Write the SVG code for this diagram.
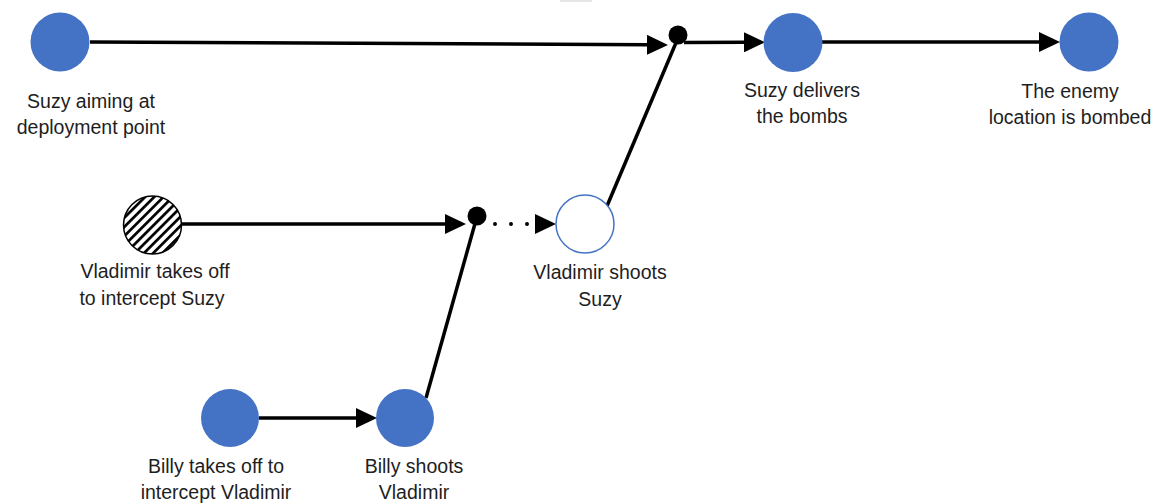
<svg xmlns="http://www.w3.org/2000/svg" width="1158" height="504" viewBox="0 0 1158 504">
  <style>
    .node { fill: #4472C4; }
    .open { fill: #ffffff; stroke: #4472C4; stroke-width: 1.5; }
    .hatch { fill: url(#hatch); stroke: #000; stroke-width: 1.5; }
    .dot { fill: #000; }
    .edge { fill: none; stroke: #000; stroke-width: 3.5; }
    .arrow { marker-end: url(#ah); }
    .dotted { fill: none; stroke: #000; stroke-width: 4; stroke-linecap: round; stroke-dasharray: 0 16; }
    .label { font-family: "Liberation Sans", Arial, sans-serif; font-size: 19.5px; fill: #1e1e1e; text-anchor: middle; }
  </style>
  <defs>
    <marker id="ah" viewBox="0 0 21 20" refX="1" refY="10" markerWidth="21" markerHeight="20" markerUnits="userSpaceOnUse" orient="auto">
      <path d="M0,0 L21,10 L0,20 Z" fill="#000"/>
    </marker>
    <pattern id="hatch" patternUnits="userSpaceOnUse" width="6.5" height="6.5" patternTransform="rotate(45)">
      <rect x="0" y="0" width="6.5" height="6.5" fill="#fff"/>
      <rect x="0" y="0" width="2.7" height="6.5" fill="#000"/>
    </pattern>
  </defs>

  <rect x="560" y="0" width="32" height="2" fill="#e6e6e6"/>

  <g id="connectors">
    <path class="edge arrow" d="M90,42 L648,44.8"/>
    <path class="edge arrow" d="M684,42.5 L745,42.3"/>
    <path class="edge arrow" d="M822,42 L1040,42"/>
    <path class="edge arrow" d="M182,224 L446,224"/>
    <path class="dotted" d="M495,224 L530,224"/>
    <path class="edge arrow" d="M535,224 L536,224" style="stroke:none"/>
    <path class="edge arrow" d="M259,418 L357,418"/>
    <path class="edge" d="M426,398 L476,220"/>
    <path class="edge" d="M607,206 L678,38"/>
  </g>

  <g id="junction1"><circle class="dot" cx="678" cy="35" r="9.5"/></g>
  <g id="junction2"><circle class="dot" cx="477" cy="216" r="9.5"/></g>

  <g id="suzy-aiming">
    <circle class="node" cx="60" cy="42" r="29.5"/>
    <text class="label" x="91" y="108">Suzy aiming at</text>
    <text class="label" x="91" y="134">deployment point</text>
  </g>

  <g id="suzy-delivers">
    <circle class="node" cx="793" cy="42.5" r="29.5"/>
    <text class="label" x="802" y="97">Suzy delivers</text>
    <text class="label" x="802" y="123">the bombs</text>
  </g>

  <g id="enemy-bombed">
    <circle class="node" cx="1089" cy="42" r="29.5"/>
    <text class="label" x="1070" y="98">The enemy</text>
    <text class="label" x="1070" y="124">location is bombed</text>
  </g>

  <g id="vladimir-takes-off">
    <circle class="hatch" cx="152.5" cy="225" r="29"/>
    <text class="label" x="155" y="278">Vladimir takes off</text>
    <text class="label" x="152" y="305">to intercept Suzy</text>
  </g>

  <g id="vladimir-shoots">
    <circle class="open" cx="585" cy="224" r="29"/>
    <text class="label" x="600" y="279">Vladimir shoots</text>
    <text class="label" x="600" y="306">Suzy</text>
  </g>

  <g id="billy-takes-off">
    <circle class="node" cx="230" cy="418" r="29"/>
    <text class="label" x="216" y="473">Billy takes off to</text>
    <text class="label" x="216" y="499">intercept Vladimir</text>
  </g>

  <g id="billy-shoots">
    <circle class="node" cx="405" cy="418" r="29"/>
    <text class="label" x="414" y="473">Billy shoots</text>
    <text class="label" x="414" y="499">Vladimir</text>
  </g>
</svg>
